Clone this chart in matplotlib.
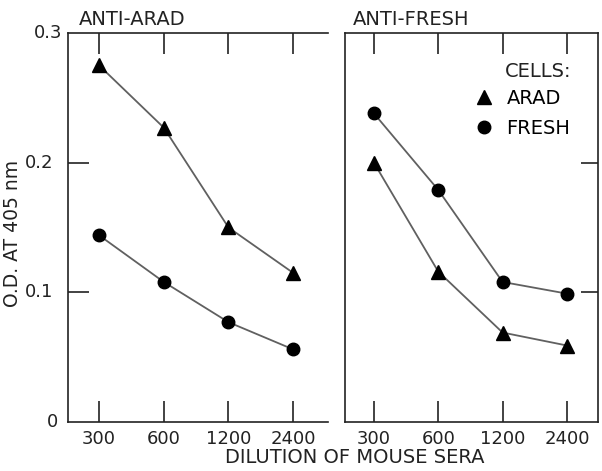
import matplotlib.pyplot as plt
from matplotlib.lines import Line2D

# dilution of mouse sera (x) and O.D. at 405 nm (y)
dilutions = [300, 600, 1200, 2400]
anti_arad_arad = [0.275, 0.227, 0.150, 0.115]
anti_arad_fresh = [0.144, 0.108, 0.077, 0.056]
anti_fresh_arad = [0.200, 0.116, 0.069, 0.059]
anti_fresh_fresh = [0.238, 0.179, 0.108, 0.099]
panel_titles = ["ANTI-ARAD", "ANTI-FRESH"]
cell_labels = ["ARAD", "FRESH"]
y_ticks = [0, 0.1, 0.2, 0.3]
y_tick_labels = ["0", "0.1", "0.2", "0.3"]

ink = "#222222"
line_col = "#606060"
fs = 14      # titles / axis labels
tfs = 13     # tick labels

plt.rcParams["font.family"] = "DejaVu Sans"

fig = plt.figure(figsize=(6.02, 4.71), dpi=100)
ax1 = fig.add_axes([0.113, 0.104, 0.432, 0.826])
ax2 = fig.add_axes([0.573, 0.104, 0.420, 0.826])


def style_axes(ax, xlo, xhi):
    ax.set_xscale("log", base=2)
    ax.set_xlim(300 * 2 ** xlo, 300 * 2 ** xhi)
    ax.set_ylim(0, 0.3)
    ax.set_xticks(dilutions)
    ax.set_xticklabels([str(d) for d in dilutions])
    ax.minorticks_off()
    ax.tick_params(axis="x", which="major", direction="in", length=15, width=1.2,
                   color=ink, top=True, bottom=True, labelsize=tfs, pad=6,
                   labelcolor=ink)
    for s in ax.spines.values():
        s.set_linewidth(1.2)
        s.set_color(ink)


# left panel: anti-ARAD sera
style_axes(ax1, -0.48, 3.54)
ax1.spines["right"].set_visible(False)
ax1.set_yticks([0.1, 0.2])
ax1.set_yticklabels([])
ax1.tick_params(axis="y", direction="in", length=15, width=1.2, color=ink,
                left=True, right=False)
# y tick labels drawn as text so each sits where it is in the original
label_offsets = {0: -10, 0.1: -15, 0.2: -15, 0.3: -6}
for v, t in zip(y_ticks, y_tick_labels):
    ax1.annotate(t, xy=(0, v), xycoords=ax1.get_yaxis_transform(),
                 xytext=(label_offsets[v], 0), textcoords="offset pixels",
                 ha="right", va="center", fontsize=tfs, color=ink)

ax1.plot(dilutions, anti_arad_arad, color=line_col, lw=1.3, marker="^",
         ms=10, mfc="black", mec="black")
ax1.plot(dilutions, anti_arad_fresh, color=line_col, lw=1.3, marker="o",
         ms=9, mfc="black", mec="black")
ax1.text(0.04, 1.01, panel_titles[0], transform=ax1.transAxes, fontsize=fs,
         color=ink, ha="left", va="bottom")
ax1.set_ylabel("O.D. AT 405 nm", fontsize=13.5, color=ink)
ax1.yaxis.set_label_coords(-0.178, 0.485)

# right panel: anti-FRESH sera
style_axes(ax2, -0.45, 3.48)
ax2.set_yticks([0.1, 0.2])
ax2.set_yticklabels([])
ax2.tick_params(axis="y", direction="in", length=12, width=1.2, color=ink,
                left=False, right=True)
ax2.plot(dilutions, anti_fresh_arad, color=line_col, lw=1.3, marker="^",
         ms=10, mfc="black", mec="black")
ax2.plot(dilutions, anti_fresh_fresh, color=line_col, lw=1.3, marker="o",
         ms=9, mfc="black", mec="black")
ax2.text(0.03, 1.01, panel_titles[1], transform=ax2.transAxes, fontsize=fs,
         color=ink, ha="left", va="bottom")

# legend
ax2.text(0.632, 0.90, "CELLS:", transform=ax2.transAxes, fontsize=fs,
         color=ink, ha="left", va="center")
handles = [Line2D([], [], ls="none", marker="^", ms=10, mfc="black", mec="black"),
           Line2D([], [], ls="none", marker="o", ms=9, mfc="black", mec="black")]
ax2.legend(handles, cell_labels, loc="upper left",
           bbox_to_anchor=(0.52, 0.857), frameon=False, fontsize=fs,
           handlelength=0.8, handletextpad=0.75, labelspacing=0.6,
           borderpad=0.0, borderaxespad=0.0)

fig.text(0.59, 0.028, "DILUTION OF MOUSE SERA", fontsize=fs, color=ink,
         ha="center", va="center")

fig.savefig("out.png", dpi=100)
